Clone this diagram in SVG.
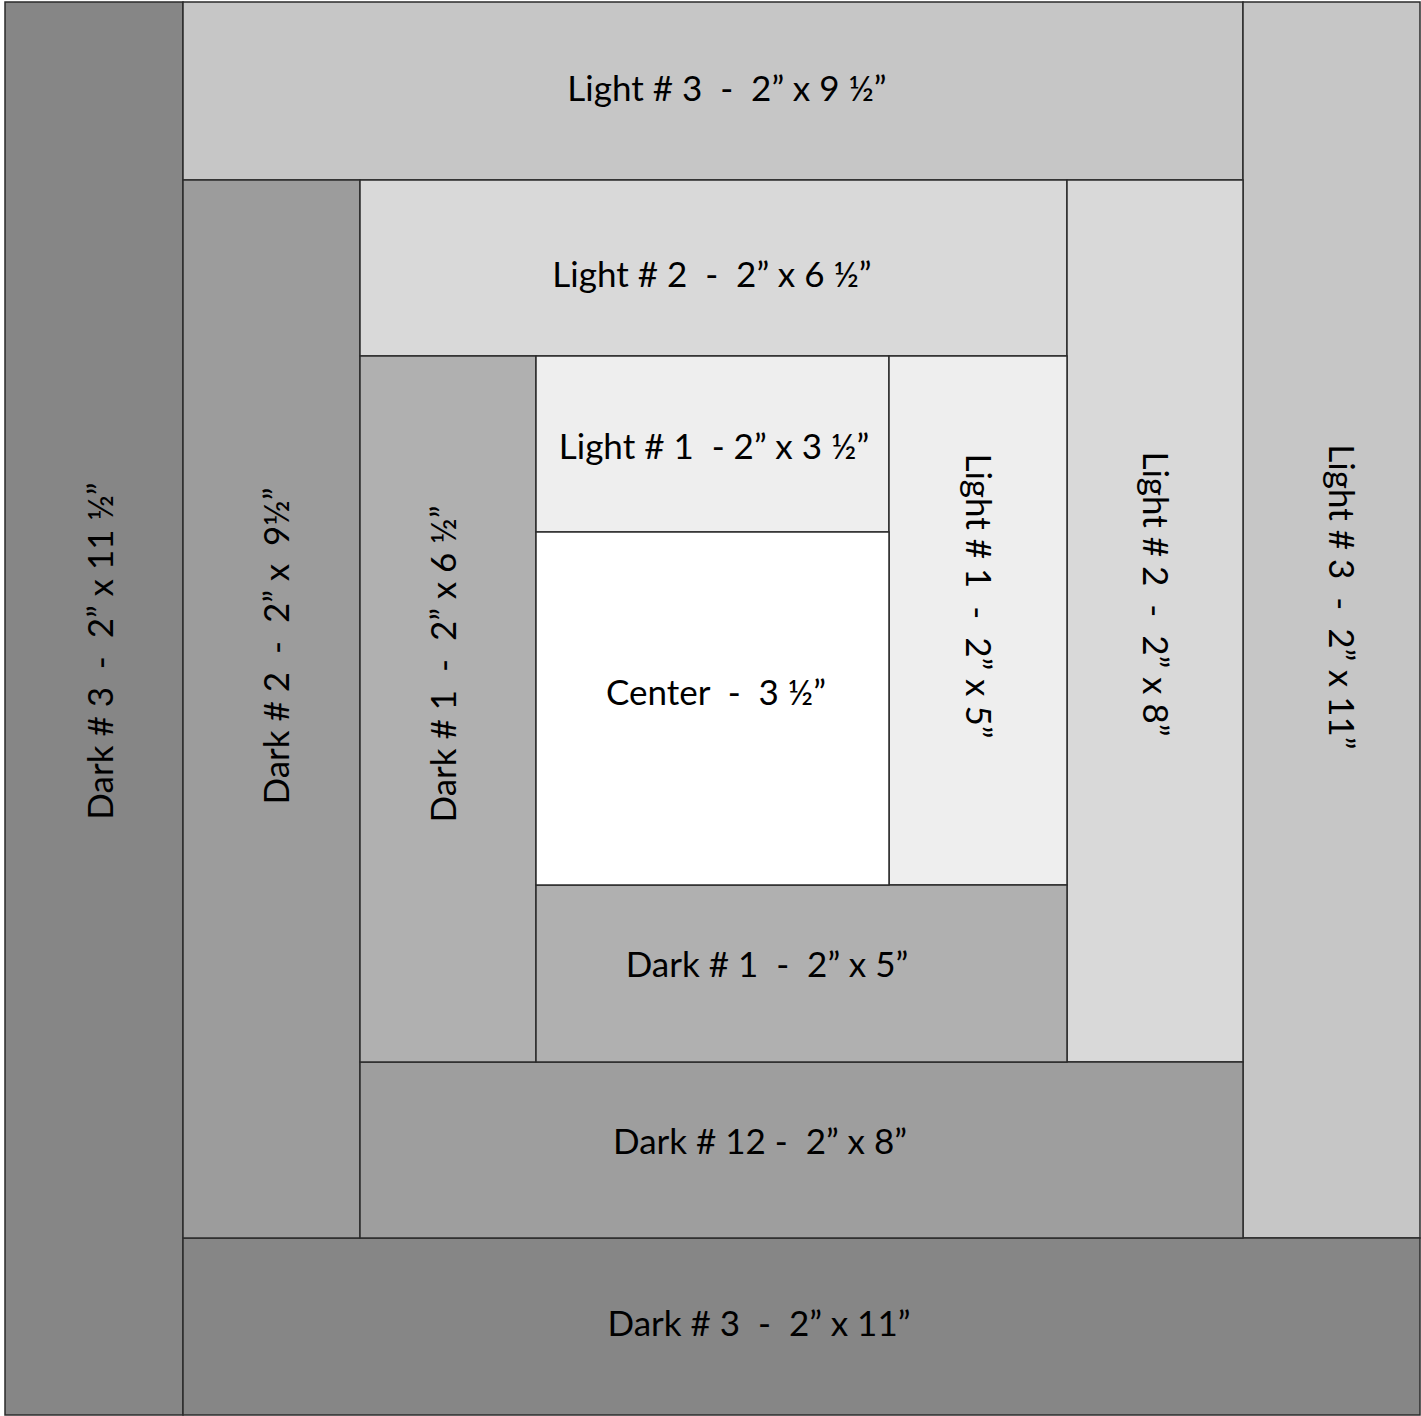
<svg xmlns="http://www.w3.org/2000/svg" width="1421" height="1416" viewBox="0 0 1421 1416">
<style>
rect{stroke:#2b2b2b;stroke-width:1.5}
text{font-family:Lato,"Open Sans",sans-serif;font-size:35px;fill:#000;text-anchor:middle;dominant-baseline:central;white-space:pre}
</style>
<rect x="0" y="0" width="1421" height="1416" fill="#ffffff" style="stroke:none"/>
<g id="dark3-left"><rect x="5" y="2" width="178" height="1413" fill="#868686"/><text transform="translate(99,651) rotate(-90)">Dark # 3  -  2” x 11 ½”</text></g>
<g id="light3-top"><rect x="183" y="2" width="1060" height="178" fill="#c6c6c6"/><text x="727" y="87">Light # 3  -  2” x 9 ½”</text></g>
<g id="light3-right"><rect x="1243" y="2" width="177" height="1236" fill="#c6c6c6"/><text transform="translate(1343,597) rotate(90)">Light # 3  -  2” x 11”</text></g>
<g id="dark3-bottom"><rect x="183" y="1238" width="1237" height="177" fill="#868686"/><text x="759" y="1322">Dark # 3  -  2” x 11”</text></g>
<g id="dark2-left"><rect x="183" y="180" width="177" height="1058" fill="#9c9c9c"/><text transform="translate(275,646) rotate(-90)">Dark # 2  -  2” x  9½”</text></g>
<g id="light2-top"><rect x="360" y="180" width="707" height="176" fill="#d9d9d9"/><text x="712" y="273">Light # 2  -  2” x 6 ½”</text></g>
<g id="light2-right"><rect x="1067" y="180" width="176" height="882" fill="#d9d9d9"/><text transform="translate(1157,594) rotate(90)">Light # 2  -  2” x 8”</text></g>
<g id="dark12-bottom"><rect x="360" y="1062" width="883" height="176" fill="#9e9e9e"/><text x="760" y="1140">Dark # 12 -  2” x 8”</text></g>
<g id="dark1-left"><rect x="360" y="356" width="176" height="706" fill="#b0b0b0"/><text transform="translate(442,664) rotate(-90)">Dark # 1  -  2” x 6 ½”</text></g>
<g id="light1-top"><rect x="536" y="356" width="353" height="176" fill="#eeeeee"/><text x="714" y="445">Light # 1  - 2” x 3 ½”</text></g>
<g id="light1-right"><rect x="889" y="356" width="178" height="529" fill="#eeeeee"/><text transform="translate(980,596) rotate(90)">Light # 1  -  2” x 5”</text></g>
<g id="dark1-bottom"><rect x="536" y="885" width="531" height="177" fill="#b0b0b0"/><text x="767" y="963">Dark # 1  -  2” x 5”</text></g>
<g id="center"><rect x="536" y="532" width="353" height="353" fill="#ffffff"/><text x="716" y="691">Center  -  3 ½”</text></g>
</svg>
